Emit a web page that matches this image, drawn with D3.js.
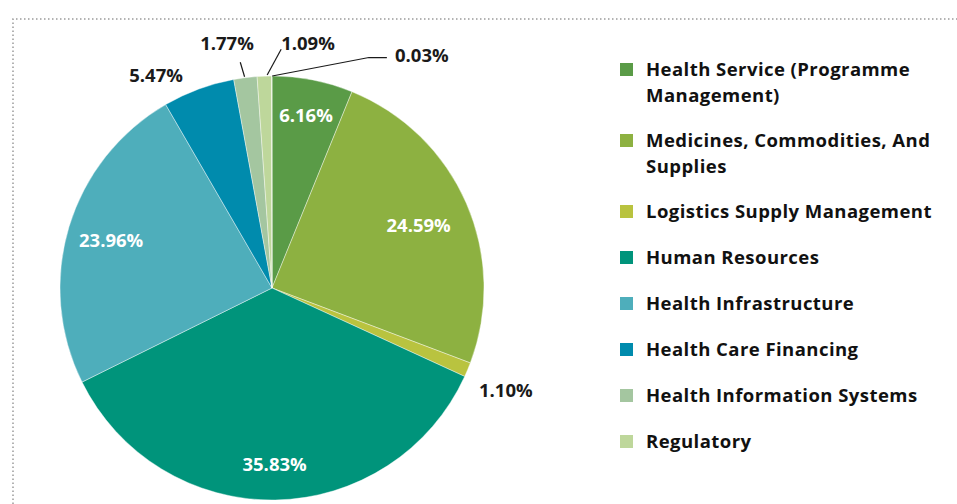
<!DOCTYPE html>
<html>
<head>
<meta charset="utf-8">
<script src="https://cdn.jsdelivr.net/npm/d3@7"></script>
<style>
  html, body { margin: 0; padding: 0; background: #fff; }
  svg { display: block; font-family: "Open Sans", Lato, sans-serif; font-weight: 700; }
</style>
</head>
<body>
<svg id="chart" width="957" height="504"></svg>
<script>
// ---- data ----
const categories = [
  "Health Service (Programme Management)",
  "Medicines, Commodities, And Supplies",
  "Logistics Supply Management",
  "Human Resources",
  "Health Infrastructure",
  "Health Care Financing",
  "Health Information Systems",
  "Regulatory",
  "Other"
];
const values = [6.16, 24.59, 1.10, 35.83, 23.96, 5.47, 1.77, 1.09, 0.03];
const colors = ["#5a9b47", "#8db141", "#b9c33f", "#00947b", "#4eaebb", "#008bad", "#a4c6a0", "#bed79b", "#d6e6b8"];
const legendLines = [
  ["Health Service (Programme", "Management)"],
  ["Medicines, Commodities, And", "Supplies"],
  ["Logistics Supply Management"],
  ["Human Resources"],
  ["Health Infrastructure"],
  ["Health Care Financing"],
  ["Health Information Systems"],
  ["Regulatory"]
];

// ---- layout ----
const svg = d3.select("#chart");
const cx = 272, cy = 288, R = 212;

// dotted frame (top and left)
svg.append("path")
  .attr("d", "M13,504 L13,19 L957,19")
  .attr("fill", "none")
  .attr("stroke", "#9a9a9a")
  .attr("stroke-width", 1.5)
  .attr("stroke-dasharray", "1.5,2.5");

const data = categories.map((c, i) => ({ name: c, value: values[i], color: colors[i] }));
const pie = d3.pie().value(d => d.value).sort(null);
const arcs = pie(data);
const arc = d3.arc().innerRadius(0).outerRadius(R);

const g = svg.append("g").attr("transform", `translate(${cx},${cy})`);
g.selectAll("path.slice").data(arcs).join("path")
  .attr("class", "slice")
  .attr("d", arc)
  .attr("fill", d => d.data.color)
  .attr("stroke", "#fff")
  .attr("stroke-width", 0.4);

const fmt = v => v.toFixed(2) + "%";
const mid = d => (d.startAngle + d.endAngle) / 2;
const polar = (a, r) => [r * Math.sin(a), -r * Math.cos(a)];

// label placement (layout, per slice index)
const deg = Math.PI / 180;
const labelLayout = {
  0: { inside: true, r: 177 },
  1: { inside: true, r: 160 },
  2: { angle: 113.5 * deg, r: 255 },
  3: { inside: true, r: 176 },
  4: { inside: true, r: 168 },
  5: { angle: 331.5 * deg, r: 243 },
  6: { leader: [[352.6, 213], [352.0, 228]], text: [227 - cx, 42 - cy], anchor: "middle" },
  7: { leader: [[358.7, 213], [2.2, 239]], text: [308 - cx, 42 - cy], anchor: "middle" },
  8: { leader: [[0.05, 212], [22.8, 250], "h", 18], text: [395 - cx, 54 - cy], anchor: "start" }
};

arcs.forEach((d, i) => {
  const L = labelLayout[i];
  let x, y, anchor = "middle", fill = "#1a1a1a";
  if (L.inside) {
    [x, y] = polar(mid(d), L.r);
    fill = "#ffffff";
  } else if (L.leader) {
    const pts = L.leader.filter(p => Array.isArray(p)).map(p => polar(p[0] * deg, p[1]));
    if (L.leader[2] === "h") {
      const last = pts[pts.length - 1];
      pts.push([last[0] + L.leader[3], last[1]]);
    }
    g.append("path")
      .attr("d", d3.line()(pts))
      .attr("fill", "none")
      .attr("stroke", "#1a1a1a")
      .attr("stroke-width", 1.2);
    [x, y] = L.text;
    anchor = L.anchor;
  } else {
    [x, y] = polar(L.angle, L.r);
  }
  g.append("text")
    .attr("x", x).attr("y", y)
    .attr("text-anchor", anchor)
    .attr("dominant-baseline", "central")
    .attr("font-size", 18.5)
    .attr("fill", fill)
    .text(fmt(d.data.value));
});

// ---- legend ----
const lg = svg.append("g");
const legendY0 = 69, legendStep = 46, lineH = 26;
let yy = legendY0;
legendLines.forEach((lines, i) => {
  lg.append("rect")
    .attr("x", 620).attr("y", yy - 6)
    .attr("width", 13).attr("height", 13)
    .attr("fill", colors[i]);
  const t = lg.append("text")
    .attr("x", 646).attr("y", yy - 1)
    .attr("dominant-baseline", "central")
    .attr("font-size", 18.5)
    .attr("letter-spacing", 0.45)
    .attr("fill", "#111");
  lines.forEach((ln, j) => {
    t.append("tspan").attr("x", 646).attr("dy", j === 0 ? 0 : lineH).text(ln);
  });
  yy += legendStep + (lines.length - 1) * 25;
});
</script>
</body>
</html>
